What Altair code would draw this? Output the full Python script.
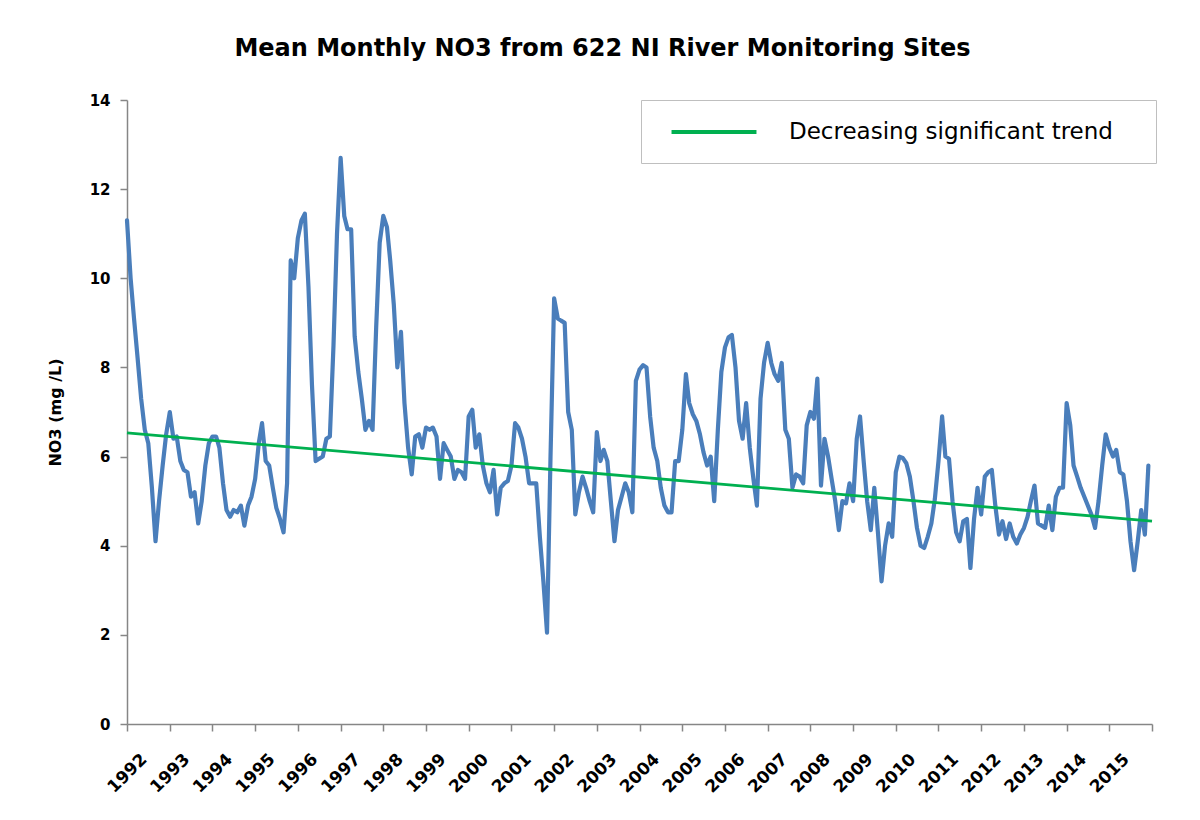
import altair as alt
import pandas as pd

years = list(range(1992, 2016))

no3_1992 = [11.3, 10.0, 9.1, 8.2, 7.3, 6.6, 6.3, 5.3, 4.1, 5.0, 5.8, 6.5]
no3_1993 = [7.0, 6.4, 6.45, 5.9, 5.7, 5.65, 5.1, 5.2, 4.5, 5.0, 5.8, 6.3]
no3_1994 = [6.45, 6.45, 6.2, 5.4, 4.8, 4.65, 4.8, 4.75, 4.9, 4.45, 4.9, 5.1]
no3_1995 = [5.5, 6.3, 6.75, 5.9, 5.8, 5.3, 4.85, 4.6, 4.3, 5.4, 10.4, 10.0]
no3_1996 = [10.9, 11.3, 11.45, 9.8, 7.6, 5.9, 5.95, 6.0, 6.4, 6.45, 8.5, 11.0]
no3_1997 = [12.7, 11.4, 11.1, 11.1, 8.7, 7.9, 7.3, 6.6, 6.8, 6.6, 8.9, 10.8]
no3_1998 = [11.4, 11.15, 10.4, 9.4, 8.0, 8.8, 7.2, 6.2, 5.6, 6.45, 6.5, 6.2]
no3_1999 = [6.65, 6.6, 6.65, 6.45, 5.5, 6.3, 6.15, 6.0, 5.5, 5.7, 5.65, 5.5]
no3_2000 = [6.9, 7.05, 6.2, 6.5, 5.8, 5.4, 5.2, 5.7, 4.7, 5.3, 5.4, 5.45]
no3_2001 = [5.8, 6.75, 6.65, 6.4, 6.0, 5.4, 5.4, 5.4, 4.2, 3.2, 2.05, 6.0]
no3_2002 = [9.55, 9.1, 9.05, 9.0, 7.0, 6.6, 4.7, 5.2, 5.55, 5.3, 5.0, 4.75]
no3_2003 = [6.55, 5.9, 6.15, 5.9, 5.0, 4.1, 4.8, 5.1, 5.4, 5.2, 4.75, 7.7]
no3_2004 = [7.95, 8.05, 8.0, 6.9, 6.2, 5.9, 5.3, 4.9, 4.75, 4.75, 5.9, 5.9]
no3_2005 = [6.6, 7.85, 7.2, 6.95, 6.8, 6.5, 6.1, 5.8, 6.0, 5.0, 6.6, 7.9]
no3_2006 = [8.45, 8.68, 8.73, 8.0, 6.8, 6.4, 7.2, 6.2, 5.5, 4.9, 7.3, 8.1]
no3_2007 = [8.55, 8.1, 7.85, 7.7, 8.1, 6.6, 6.4, 5.3, 5.6, 5.55, 5.4, 6.7]
no3_2008 = [7.0, 6.85, 7.75, 5.35, 6.4, 6.0, 5.5, 5.0, 4.35, 5.0, 4.95, 5.4]
no3_2009 = [5.0, 6.4, 6.9, 5.9, 5.0, 4.35, 5.3, 4.3, 3.2, 4.0, 4.5, 4.2]
no3_2010 = [5.65, 6.0, 5.97, 5.85, 5.55, 5.0, 4.4, 4.0, 3.95, 4.2, 4.5, 5.05]
no3_2011 = [5.9, 6.9, 6.0, 5.95, 5.0, 4.3, 4.1, 4.55, 4.6, 3.5, 4.6, 5.3]
no3_2012 = [4.7, 5.55, 5.65, 5.7, 4.9, 4.25, 4.55, 4.15, 4.5, 4.2, 4.05, 4.25]
no3_2013 = [4.4, 4.65, 5.0, 5.35, 4.5, 4.45, 4.4, 4.9, 4.35, 5.1, 5.3, 5.3]
no3_2014 = [7.2, 6.7, 5.8, 5.55, 5.3, 5.1, 4.9, 4.7, 4.4, 5.0, 5.8, 6.5]
no3_2015 = [6.2, 6.0, 6.15, 5.65, 5.6, 5.0, 4.1, 3.45, 4.1, 4.8, 4.25, 5.8]

trend_label = "Decreasing significant trend"
trend_dates = ["1992-01-01T00:00:00", "2016-01-01T00:00:00"]
trend_values = [6.53, 4.55]

yearly = [no3_1992, no3_1993, no3_1994, no3_1995, no3_1996, no3_1997,
          no3_1998, no3_1999, no3_2000, no3_2001, no3_2002, no3_2003,
          no3_2004, no3_2005, no3_2006, no3_2007, no3_2008, no3_2009,
          no3_2010, no3_2011, no3_2012, no3_2013, no3_2014, no3_2015]

rows = []
for y, vals in zip(years, yearly):
    for m, v in enumerate(vals):
        rows.append({"date": f"{y}-{m + 1:02d}-01T00:00:00", "no3": v})
df = pd.DataFrame(rows)

trend_df = pd.DataFrame({"date": trend_dates, "no3": trend_values,
                         "series": [trend_label, trend_label]})

FONT = "DejaVu Sans"
AXIS_GREY = "#868686"

x_enc = alt.X(
    "date:T",
    scale=alt.Scale(domain=[alt.DateTime(year=1992, month=1, date=1),
                            alt.DateTime(year=2016, month=1, date=1)]),
    axis=alt.Axis(
        title=None,
        values=[alt.DateTime(year=y, month=1, date=1) for y in range(1992, 2017)],
        format="%Y",
        labelExpr="year(datum.value) < 2016 ? timeFormat(datum.value, '%Y') : ''",
        labelAngle=-45,
        labelAlign="center",
        labelBaseline="middle",
        labelPadding=42,
        labelFontSize=17,
        labelOverlap=False,
        grid=False,
    ),
)

y_enc = alt.Y(
    "no3:Q",
    scale=alt.Scale(domain=[0, 14], nice=False),
    axis=alt.Axis(
        title="NO3 (mg /L)",
        values=[0, 2, 4, 6, 8, 10, 12, 14],
        grid=False,
        labelPadding=10,
        labelFontSize=15,
        titlePadding=26,
        titleFontSize=16,
        titleFontWeight="bold",
    ),
)

line = alt.Chart(df).mark_line(
    color="#4A7EBB", strokeWidth=4.2, strokeJoin="round", strokeCap="round"
).encode(x=x_enc, y=y_enc)

trend = alt.Chart(trend_df).mark_line(strokeWidth=2.8).encode(
    x="date:T",
    y="no3:Q",
    color=alt.Color(
        "series:N",
        scale=alt.Scale(domain=[trend_label], range=["#00B050"]),
        legend=alt.Legend(
            title="\u00a0",
            titleOrient="right",
            titlePadding=24,
            titleFontSize=8,
            orient="none",
            legendX=514,
            legendY=0,
            symbolType="M-4,0H4",
            symbolSize=451,
            symbolStrokeWidth=4,
            symbolOffset=41,
            labelFont=FONT,
            labelFontSize=23,
            labelColor="black",
            labelOffset=62,
            labelLimit=0,
            padding=19,
            strokeColor="#BFBFBF",
            fillColor="white",
            cornerRadius=0,
        ),
    ),
)

chart = alt.layer(line, trend).properties(
    width=1025,
    height=624,
    autosize=alt.AutoSizeParams(type="none"),
    padding={"left": 119, "top": 92, "right": 40, "bottom": 96},
    title=alt.TitleParams(
        "Mean Monthly NO3 from 622 NI River Monitoring Sites",
        font=FONT,
        fontSize=24,
        fontWeight="bold",
        color="black",
        anchor="middle",
        dx=-37,
        offset=32,
    ),
).configure_view(stroke=None).configure_axis(
    domainColor=AXIS_GREY,
    tickColor=AXIS_GREY,
    domainWidth=1.5,
    tickWidth=1.5,
    tickSize=7,
    labelFont=FONT,
    labelFontWeight="bold",
    labelColor="black",
    titleFont=FONT,
    titleColor="black",
)

chart.save("out.html", embed_options={"renderer": "svg", "actions": False})
